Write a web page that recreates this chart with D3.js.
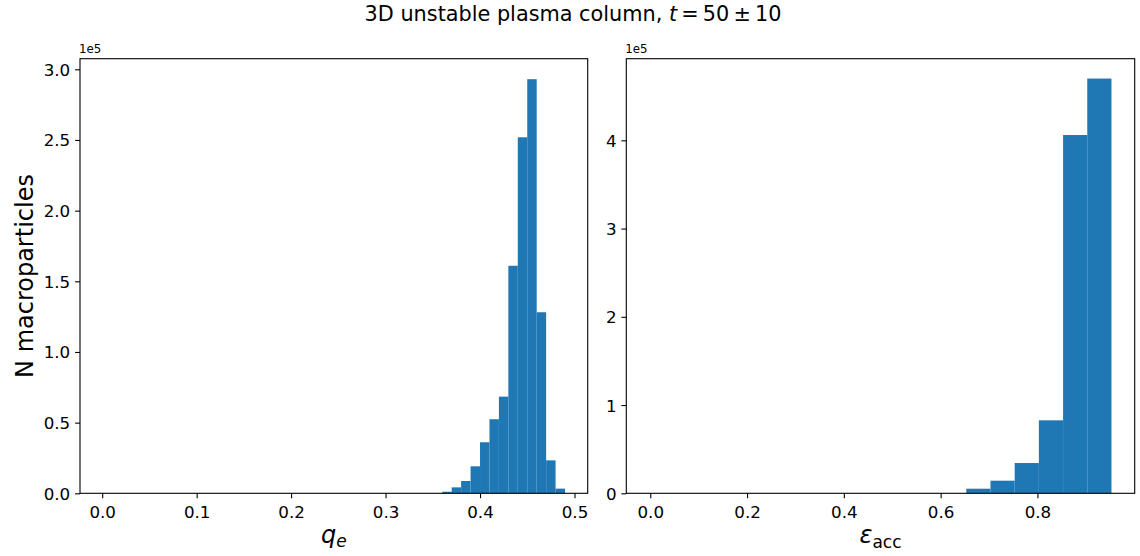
<!DOCTYPE html>
<html>
<head>
<meta charset="utf-8">
<script src="https://cdn.jsdelivr.net/npm/d3@7"></script>
<style>
  html, body { margin: 0; padding: 0; background: #fff; }
  svg { display: block; font-family: "DejaVu Sans", sans-serif; }
</style>
</head>
<body>
<svg id="fig" width="1140" height="556"></svg>
<script>
// Histogram of electron charge fraction q_e (bins of 0.01, counts in units of 1e5)
const qeBinStarts = [0.36, 0.37, 0.38, 0.39, 0.40, 0.41, 0.42, 0.43, 0.44, 0.45, 0.46, 0.47, 0.48];
const qeBinWidth = 0.01;
const qeCounts = [0.011, 0.042, 0.087, 0.191, 0.361, 0.524, 0.684, 1.610, 2.519, 2.93, 1.281, 0.233, 0.033];

// Histogram of acceleration efficiency (bins of 0.05, counts in units of 1e5)
const accBinStarts = [0.653, 0.703, 0.753, 0.803, 0.853, 0.903];
const accBinWidth = 0.05;
const accCounts = [0.052, 0.143, 0.343, 0.827, 4.06, 4.70];

// Axis limits and tick values
const qeXLimits = [-0.0235, 0.514];
const qeYLimits = [0, 3.075];
const accXLimits = [-0.0495, 1.001];
const accYLimits = [0, 4.925];
const qeXTicks = [0.0, 0.1, 0.2, 0.3, 0.4, 0.5];
const qeYTicks = [0.0, 0.5, 1.0, 1.5, 2.0, 2.5, 3.0];
const accXTicks = [0.0, 0.2, 0.4, 0.6, 0.8];
const accYTicks = [0, 1, 2, 3, 4];

const titleText = "3D unstable plasma column, ";
const yLabelText = "N macroparticles";
const offsetText = "1e5";

const svg = d3.select("#fig");
const BAR = "#1f77b4";
const INK = "#000";
const TICK_FS = 16.7;

// Figure title, with the math part set in italic/symbol runs
const title = svg.append("text")
  .attr("x", 573).attr("y", 21)
  .attr("text-anchor", "middle")
  .attr("font-size", 20.8)
  .attr("fill", INK);
title.append("tspan").text(titleText);
title.append("tspan").attr("font-style", "italic").text("t");
title.append("tspan").text("\u2009=\u200950\u2009\u00b1\u200910");

function panel(cfg) {
  const { left, right, top, bottom, xLim, yLim, xTicks, yTicks, xFmt, yFmt,
          starts, width, counts } = cfg;
  const x = d3.scaleLinear().domain(xLim).range([left, right]);
  const y = d3.scaleLinear().domain(yLim).range([bottom, top]);
  const g = svg.append("g");

  // bars
  g.selectAll("rect.bar")
    .data(counts.map((c, i) => ({ x0: starts[i], x1: starts[i] + width, c })))
    .join("rect")
    .attr("class", "bar")
    .attr("x", d => x(d.x0))
    .attr("width", d => x(d.x1) - x(d.x0))
    .attr("y", d => y(d.c))
    .attr("height", d => y(0) - y(d.c))
    .attr("fill", BAR);

  // axes
  const xAxis = d3.axisBottom(x).tickValues(xTicks).tickFormat(xFmt)
    .tickSizeOuter(0).tickSize(4.9).tickPadding(4.9);
  const yAxis = d3.axisLeft(y).tickValues(yTicks).tickFormat(yFmt)
    .tickSizeOuter(0).tickSize(4.9).tickPadding(4.9);

  const gx = g.append("g").attr("transform", `translate(0,${bottom})`).call(xAxis);
  const gy = g.append("g").attr("transform", `translate(${left},0)`).call(yAxis);
  [gx, gy].forEach(a => {
    a.select(".domain").remove();
    a.selectAll("line").attr("stroke", INK).attr("stroke-width", 1.1);
    a.selectAll("text").attr("font-size", TICK_FS).attr("fill", INK)
      .attr("font-family", "DejaVu Sans");
  });
  gx.selectAll("text").attr("dy", null).attr("y", 24.7);
  gy.selectAll("text").attr("dy", "0.36em");

  // frame
  g.append("rect")
    .attr("x", left).attr("y", top)
    .attr("width", right - left).attr("height", bottom - top)
    .attr("fill", "none").attr("stroke", INK).attr("stroke-width", 1.1);

  // scale multiplier
  g.append("text").attr("x", left - 1).attr("y", top - 6)
    .attr("font-size", 11.8).attr("fill", INK).text(offsetText);

  return { x, y, g };
}

const P1 = panel({
  left: 80, right: 587.7, top: 58.7, bottom: 493.3,
  xLim: qeXLimits, yLim: qeYLimits, xTicks: qeXTicks, yTicks: qeYTicks,
  xFmt: d3.format(".1f"), yFmt: d3.format(".1f"),
  starts: qeBinStarts, width: qeBinWidth, counts: qeCounts
});
const P2 = panel({
  left: 626.3, right: 1134.7, top: 58.7, bottom: 493.3,
  xLim: accXLimits, yLim: accYLimits, xTicks: accXTicks, yTicks: accYTicks,
  xFmt: d3.format(".1f"), yFmt: d3.format("d"),
  starts: accBinStarts, width: accBinWidth, counts: accCounts
});

// y label
svg.append("text")
  .attr("transform", `translate(33,${(58.7 + 493.3) / 2}) rotate(-90)`)
  .attr("text-anchor", "middle")
  .attr("font-size", 24).attr("fill", INK)
  .text(yLabelText);

// x label: q_e
const xl1 = svg.append("text")
  .attr("x", (80 + 587.7) / 2).attr("y", 543)
  .attr("text-anchor", "middle").attr("font-size", 24).attr("fill", INK);
xl1.append("tspan").attr("font-style", "italic").text("q");
xl1.append("tspan").attr("font-style", "italic").attr("font-size", 17)
  .attr("dy", 4).text("e");

// x label: epsilon_acc
const xl2 = svg.append("text")
  .attr("x", (626.3 + 1134.7) / 2).attr("y", 543)
  .attr("text-anchor", "middle").attr("font-size", 24).attr("fill", INK);
xl2.append("tspan").attr("font-style", "italic").text("\u03b5");
xl2.append("tspan").attr("font-size", 17).attr("dy", 5).text("acc");
</script>
</body>
</html>
